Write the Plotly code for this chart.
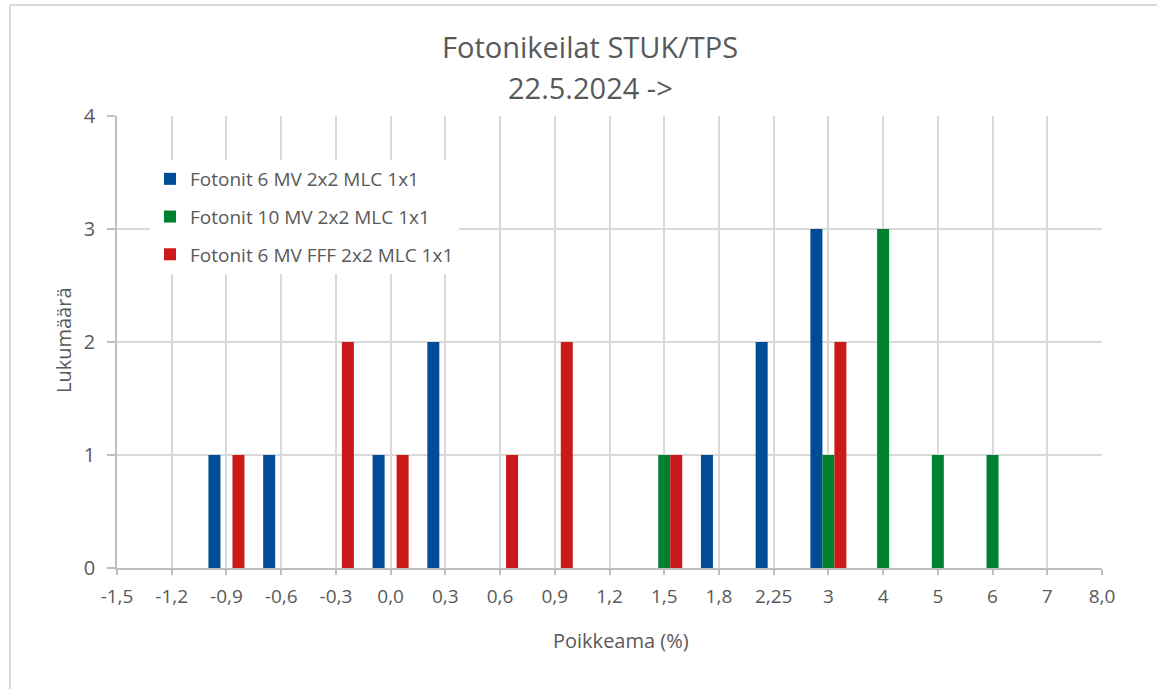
import plotly.graph_objects as go

categories = ["-1,5", "-1,2", "-0,9", "-0,6", "-0,3", "0,0", "0,3", "0,6", "0,9", "1,2",
              "1,5", "1,8", "2,25", "3", "4", "5", "6", "7", "8,0"]
series_names = ["Fotonit 6 MV 2x2 MLC 1x1", "Fotonit 10 MV 2x2 MLC 1x1", "Fotonit 6 MV FFF 2x2 MLC 1x1"]
blue_vals = [0, 0, 1, 1, 0, 1, 2, 0, 0, 0, 0, 1, 2, 3, 0, 0, 0, 0, 0]
green_vals = [0, 0, 0, 0, 0, 0, 0, 0, 0, 0, 1, 0, 0, 1, 3, 1, 1, 0, 0]
red_vals = [0, 0, 1, 0, 2, 1, 0, 1, 2, 0, 1, 0, 0, 2, 0, 0, 0, 0, 0]
colors = ["#004C97", "#00812F", "#CC1A1A"]
y_ticks = [0, 1, 2, 3, 4]
title_lines = ["Fotonikeilat STUK/TPS", "22.5.2024 ->"]
x_title = "Poikkeama (%)"
y_title = "Lukumäärä"

FONT = "Open Sans"
GREY = "#595959"

# plot area in pixels
L, R, T, B = 117, 1102, 116, 568
W, H = 1157, 689
PW, PH = R - L, B - T


def px(x):
    return (x - L) / PW


def py(y):
    return (B - y) / PH


fig = go.Figure()
for i, (name, vals) in enumerate(zip(series_names, [blue_vals, green_vals, red_vals])):
    fig.add_trace(go.Bar(x=categories, y=vals, name=name, marker_color=colors[i],
                         marker_line_width=0, legendgroup=f"g{i}"))

fig.update_layout(
    width=W, height=H,
    margin=dict(l=L, r=W - R, t=T, b=H - B),
    paper_bgcolor="white", plot_bgcolor="white",
    barmode="group", bargap=0.342, bargroupgap=0,
    font=dict(family=FONT, color=GREY, size=19),
    showlegend=True,
    legend=dict(x=px(150), y=py(160), xanchor="left", yanchor="top", bgcolor="white",
                font=dict(family=FONT, size=19, color=GREY), tracegroupgap=10,
                itemwidth=30),
    xaxis=dict(type="category", categoryorder="array", categoryarray=categories,
               range=[0, len(categories) - 1],
               showgrid=True, gridcolor="#d9d9d9", gridwidth=1.5,
               showline=True, linecolor="#bfbfbf", linewidth=1.5,
               ticks="outside", ticklen=5, tickcolor="#bfbfbf", tickwidth=1.5,
               ticklabelstandoff=5,
               tickfont=dict(family=FONT, size=19, color=GREY),
               zeroline=False),
    yaxis=dict(range=[0, 4], tickvals=y_ticks,
               showgrid=True, gridcolor="#d9d9d9", gridwidth=1.5,
               showline=True, linecolor="#bfbfbf", linewidth=1.5,
               ticks="outside", ticklen=8, tickcolor="#bfbfbf", tickwidth=1.5,
               ticklabelstandoff=8,
               tickfont=dict(family=FONT, size=20, color=GREY),
               zeroline=False),
)

# Two-line title with Excel-like line spacing
for text, yc in zip(title_lines, [47, 87]):
    fig.add_annotation(text=text, xref="paper", yref="paper", x=px(590), y=py(yc),
                       xanchor="center", yanchor="middle", showarrow=False,
                       font=dict(family=FONT, size=29, color=GREY))

# Axis titles
fig.add_annotation(text=x_title, xref="paper", yref="paper", x=px(621), y=py(640),
                   xanchor="center", yanchor="middle", showarrow=False,
                   font=dict(family=FONT, size=20, color=GREY))
fig.add_annotation(text=y_title, xref="paper", yref="paper", x=px(63), y=py(340),
                   xanchor="center", yanchor="middle", showarrow=False, textangle=-90,
                   font=dict(family=FONT, size=20, color=GREY))

# Chart outline (left and top edges)
fig.add_shape(type="line", xref="paper", yref="paper",
              x0=px(10), x1=px(W), y0=py(5), y1=py(5),
              line=dict(color="#d9d9d9", width=2))
fig.add_shape(type="line", xref="paper", yref="paper",
              x0=px(10), x1=px(10), y0=py(5), y1=py(H),
              line=dict(color="#d9d9d9", width=2))

fig.write_html("out.html", config={"displayModeBar": False},
               post_script="document.body.style.margin='0';")
